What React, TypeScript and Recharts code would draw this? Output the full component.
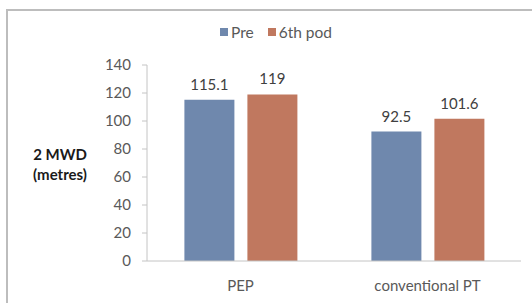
import React from 'react';
import { BarChart, Bar, XAxis, YAxis, LabelList, Label } from 'recharts';

const categories = ['PEP', 'conventional PT'];
const preValues = [115.1, 92.5];
const podValues = [119, 101.6];
const yTicks = [0, 20, 40, 60, 80, 100, 120, 140];

const data = categories.map((name, i) => ({ name, pre: preValues[i], pod: podValues[i] }));

const FONT = 'Lato, "Open Sans", sans-serif';
const BLUE = '#6F88AD';
const RED = '#C0785F';

const YLabel = (props: any) => {
  const { viewBox } = props;
  const cy = viewBox.y + viewBox.height / 2;
  return (
    <text x={60} y={cy} textAnchor="middle" fontFamily={FONT} fontSize={15} fontWeight="bold" fill="#1a1a1a">
      <tspan x={60} dy={-3}>2 MWD</tspan>
      <tspan x={60} dy={20}>(metres)</tspan>
    </text>
  );
};

export default function App() {
  return (
    <div style={{ position: 'absolute', left: 0, top: 0, width: 532, height: 303, background: '#fff', overflow: 'hidden' }}>
      <div style={{ position: 'absolute', left: 6, top: 9, width: 600, height: 400, borderLeft: '2px solid #bdbdbd', borderTop: '2px solid #bdbdbd' }} />
      <div style={{ position: 'absolute', left: 220, top: 23, display: 'flex', alignItems: 'center', fontFamily: FONT, fontSize: 15.5, color: '#595959' }}>
        <span style={{ width: 8, height: 8, background: BLUE, marginRight: 3 }} />
        <span style={{ marginRight: 14 }}>Pre</span>
        <span style={{ width: 8, height: 8, background: RED, marginRight: 3 }} />
        <span>6th pod</span>
      </div>
      <div style={{ position: 'absolute', left: 0, top: 0 }}>
        <BarChart
          width={532}
          height={303}
          data={data}
          margin={{ top: 65, right: 11, left: 0, bottom: 0 }}
          barCategoryGap="20%"
          barGap={13}
        >
          <XAxis
            dataKey="name"
            height={42}
            tickLine={false}
            tickSize={0}
            tickMargin={19}
            axisLine={{ stroke: '#c4c4c4' }}
            tick={{ fontFamily: FONT, fontSize: 15, fill: '#595959' }}
          />
          <YAxis
            width={147}
            domain={[0, 140]}
            ticks={yTicks}
            tickSize={5}
            tickMargin={11}
            interval={0}
            axisLine={{ stroke: '#c4c4c4' }}
            tickLine={{ stroke: '#c4c4c4' }}
            tick={{ fontFamily: FONT, fontSize: 15, fill: '#595959' }}
          >
            <Label content={<YLabel />} />
          </YAxis>
          <Bar dataKey="pre" fill={BLUE} isAnimationActive={false}>
            <LabelList dataKey="pre" position="top" offset={10} fill="#404040" fontFamily={FONT} fontSize={15} />
          </Bar>
          <Bar dataKey="pod" fill={RED} isAnimationActive={false}>
            <LabelList dataKey="pod" position="top" offset={10} fill="#404040" fontFamily={FONT} fontSize={15} />
          </Bar>
        </BarChart>
      </div>
    </div>
  );
}
